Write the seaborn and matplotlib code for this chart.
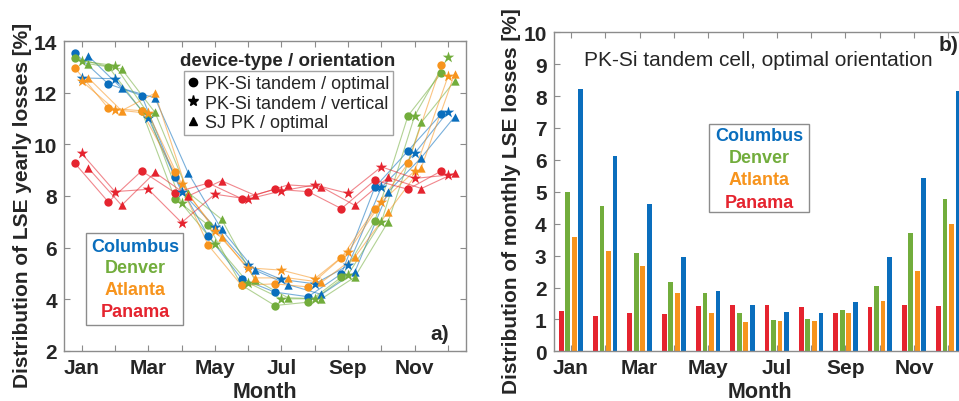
import numpy as np
import pandas as pd
import matplotlib
matplotlib.use("Agg")
import matplotlib.pyplot as plt
from matplotlib.patches import Rectangle
from matplotlib.lines import Line2D
import seaborn as sns

sns.set_style("white")
plt.rcParams['font.family'] = ['Liberation Sans', 'DejaVu Sans']

months = ["Jan", "Feb", "Mar", "Apr", "May", "Jun", "Jul", "Aug", "Sep", "Oct", "Nov", "Dec"]
cities = ["Columbus", "Denver", "Atlanta", "Panama"]
devices = ["PK-Si tandem / optimal", "PK-Si tandem / vertical", "SJ PK / optimal"]

# Panel a) yearly loss distribution [%]
columbus_opt  = [13.53, 12.34, 11.89, 8.74, 6.45, 4.80, 4.28, 4.10, 4.99, 8.33, 9.75, 11.18]
columbus_vert = [12.57, 12.54, 11.02, 8.16, 6.80, 5.31, 4.77, 4.60, 5.31, 8.33, 9.65, 11.27]
columbus_sj   = [13.42, 12.17, 11.80, 8.89, 6.71, 5.13, 4.57, 4.19, 5.05, 8.16, 9.49, 11.07]
denver_opt    = [13.34, 13.01, 11.30, 7.90, 6.87, 4.55, 3.76, 3.89, 4.86, 7.03, 11.11, 12.76]
denver_vert   = [13.22, 13.05, 11.18, 7.71, 6.16, 4.64, 4.02, 4.02, 4.96, 7.00, 11.11, 13.38]
denver_sj     = [13.12, 12.92, 11.24, 8.13, 7.10, 4.75, 4.06, 4.02, 4.86, 7.00, 10.85, 12.45]
atlanta_opt   = [12.95, 11.40, 11.30, 8.91, 6.10, 4.54, 4.60, 4.48, 5.61, 7.49, 9.26, 13.08]
atlanta_vert  = [12.45, 11.34, 11.20, 8.47, 6.65, 5.22, 5.13, 4.80, 5.83, 7.77, 8.97, 12.63]
atlanta_sj    = [12.57, 11.30, 11.98, 8.05, 6.43, 4.83, 4.83, 4.66, 5.63, 7.38, 9.10, 12.73]
panama_opt    = [9.26, 7.77, 8.97, 8.13, 8.50, 7.90, 8.26, 8.17, 7.51, 8.61, 8.26, 8.97]
panama_vert   = [9.65, 8.17, 8.26, 6.97, 8.07, 7.88, 8.20, 8.43, 8.10, 9.13, 8.68, 8.81]
panama_sj     = [9.08, 7.64, 8.91, 8.00, 8.59, 8.03, 8.43, 8.35, 7.64, 8.72, 8.29, 8.89]

# Panel b) monthly LSE losses [%], PK-Si tandem, optimal orientation
bar_panama   = [1.27, 1.12, 1.20, 1.17, 1.43, 1.46, 1.46, 1.38, 1.20, 1.40, 1.46, 1.43]
bar_denver   = [5.00, 4.56, 3.07, 2.16, 1.82, 1.20, 0.98, 1.01, 1.30, 2.06, 3.70, 4.77]
bar_atlanta  = [3.57, 3.15, 2.68, 1.82, 1.19, 0.91, 0.96, 0.94, 1.20, 1.59, 2.53, 3.99]
bar_columbus = [8.22, 6.13, 4.61, 2.97, 1.88, 1.46, 1.22, 1.20, 1.53, 2.97, 5.42, 8.15]

colors = {"Columbus": "#0a6ebd", "Denver": "#72ad3c", "Atlanta": "#f7941d", "Panama": "#e5242f"}

series = {
    ("Columbus", devices[0]): columbus_opt, ("Columbus", devices[1]): columbus_vert, ("Columbus", devices[2]): columbus_sj,
    ("Denver", devices[0]): denver_opt, ("Denver", devices[1]): denver_vert, ("Denver", devices[2]): denver_sj,
    ("Atlanta", devices[0]): atlanta_opt, ("Atlanta", devices[1]): atlanta_vert, ("Atlanta", devices[2]): atlanta_sj,
    ("Panama", devices[0]): panama_opt, ("Panama", devices[1]): panama_vert, ("Panama", devices[2]): panama_sj,
}
offsets = {devices[0]: -0.2, devices[1]: 0.0, devices[2]: 0.2}
markers = {devices[0]: "o", devices[1]: "*", devices[2]: "^"}
msizes = {devices[0]: 36, devices[1]: 75, devices[2]: 36}

rows = []
for (city, dev), vals in series.items():
    for i, v in enumerate(vals):
        rows.append(dict(city=city, device=dev, x=i + 1 + offsets[dev], v=v))
df = pd.DataFrame(rows)

bar_rows = []
for city, vals in [("Panama", bar_panama), ("Denver", bar_denver), ("Atlanta", bar_atlanta), ("Columbus", bar_columbus)]:
    for m, v in zip(months, vals):
        bar_rows.append(dict(city=city, month=m, v=v))
dfb = pd.DataFrame(bar_rows)

fig = plt.figure(figsize=(9.59, 4.02), dpi=100)
W, H = 959, 402
axa = fig.add_axes([64 / W, 1 - 352 / H, (466 - 64) / W, (352 - 42) / H])
axb = fig.add_axes([553.5 / W, 1 - 352.3 / H, 412 / W, (352.3 - 33.3) / H])

spine_col = "#8c8c8c"
tick_fs = 15
lab_fs = 15.5
ylab_fs = 15

# ---- panel a
for city in cities:
    for dev in devices:
        sub = df[(df.city == city) & (df.device == dev)]
        sns.lineplot(data=sub, x="x", y="v", ax=axa, color=colors[city], linewidth=0.8,
                     alpha=0.55, legend=False, sort=False, errorbar=None)
for dev in devices:
    for city in cities:
        sub = df[(df.city == city) & (df.device == dev)]
        sns.scatterplot(data=sub, x="x", y="v", ax=axa, color=colors[city], marker=markers[dev],
                        s=msizes[dev], linewidth=0, legend=False, zorder=3)

axa.set_xlim(0.47, 12.54)
axa.set_ylim(2, 14)
axa.set_xticks(range(1, 13))
axa.set_xticklabels([m if i % 2 == 0 else "" for i, m in enumerate(months)])
axa.set_yticks(range(2, 15, 2))
axa.set_xlabel("Month", fontsize=lab_fs, fontweight="bold", labelpad=3)
axa.set_ylabel("Distribution of LSE yearly losses [%]", fontsize=ylab_fs, fontweight="bold")
axa.yaxis.set_label_coords(-0.08, 0.474)

dev_handles = [Line2D([], [], color="black", marker=markers[d], linestyle="none",
                      markersize=(6 if d != devices[1] else 8)) for d in devices]
leg = axa.legend(dev_handles, devices, loc="upper left", bbox_to_anchor=(0.2985, 0.902),
                 borderaxespad=0, fontsize=13, frameon=True, fancybox=False, edgecolor="#8c8c8c",
                 handlelength=0.6, handletextpad=0.35, borderpad=0.2, labelspacing=0.15)
leg.get_frame().set_linewidth(1.0)
axa.text(0.557, 0.937, "device-type / orientation", transform=axa.transAxes, ha="center", va="center",
         fontsize=13.5, fontweight="bold")

axa.add_patch(Rectangle((0.0547, 0.084), 0.2413, 0.297, transform=axa.transAxes, fill=True,
                        facecolor="white", edgecolor="#8c8c8c", linewidth=1.0, zorder=4))
for city, yy in zip(cities, [0.336, 0.268, 0.199, 0.128]):
    axa.text(0.177, yy, city, transform=axa.transAxes, ha="center", va="center", fontsize=13,
             fontweight="bold", color=colors[city], zorder=5)
axa.text(0.935, 0.058, "a)", transform=axa.transAxes, ha="center", va="center", fontsize=15,
         fontweight="bold")

# ---- panel b
sns.barplot(data=dfb, x="month", y="v", hue="city", order=months,
            hue_order=["Panama", "Denver", "Atlanta", "Columbus"], palette=colors,
            width=0.76, gap=0.27, ax=axb, legend=False, saturation=1, linewidth=0)
axb.set_xlim(-0.51, 11.5)
axb.set_ylim(0, 10)
axb.set_yticks(range(0, 11))
axb.set_xticks(range(12))
axb.set_xticklabels([m if i % 2 == 0 else "" for i, m in enumerate(months)])
axb.set_xlabel("Month", fontsize=lab_fs, fontweight="bold", labelpad=3)
axb.set_ylabel("Distribution of monthly LSE losses [%]", fontsize=ylab_fs, fontweight="bold")
axb.yaxis.set_label_coords(-0.08, 0.474)
axb.text(0.496, 0.915, "PK-Si tandem cell, optimal orientation", transform=axb.transAxes,
         ha="center", va="center", fontsize=15)
axb.text(0.982, 0.962, "b)", transform=axb.transAxes, ha="right", va="center", fontsize=15,
         fontweight="bold")
axb.add_patch(Rectangle((0.378, 0.436), 0.243, 0.276, transform=axb.transAxes, fill=True,
                        facecolor="white", edgecolor="#8c8c8c", linewidth=1.0, zorder=4))
for city, yy in zip(cities, [0.677, 0.607, 0.537, 0.467]):
    axb.text(0.499, yy, city, transform=axb.transAxes, ha="center", va="center", fontsize=13,
             fontweight="bold", color=colors[city], zorder=5)

for ax in (axa, axb):
    for s in ax.spines.values():
        s.set_color(spine_col)
        s.set_linewidth(1.0)
        s.set_visible(True)
    ax.tick_params(axis="both", which="both", direction="in", length=4, width=0.8, color=spine_col,
                   top=True, right=True, bottom=True, left=True, labelsize=tick_fs, pad=5)
    for lab in ax.get_xticklabels() + ax.get_yticklabels():
        lab.set_fontweight("bold")

fig.savefig("out.png", dpi=100)
